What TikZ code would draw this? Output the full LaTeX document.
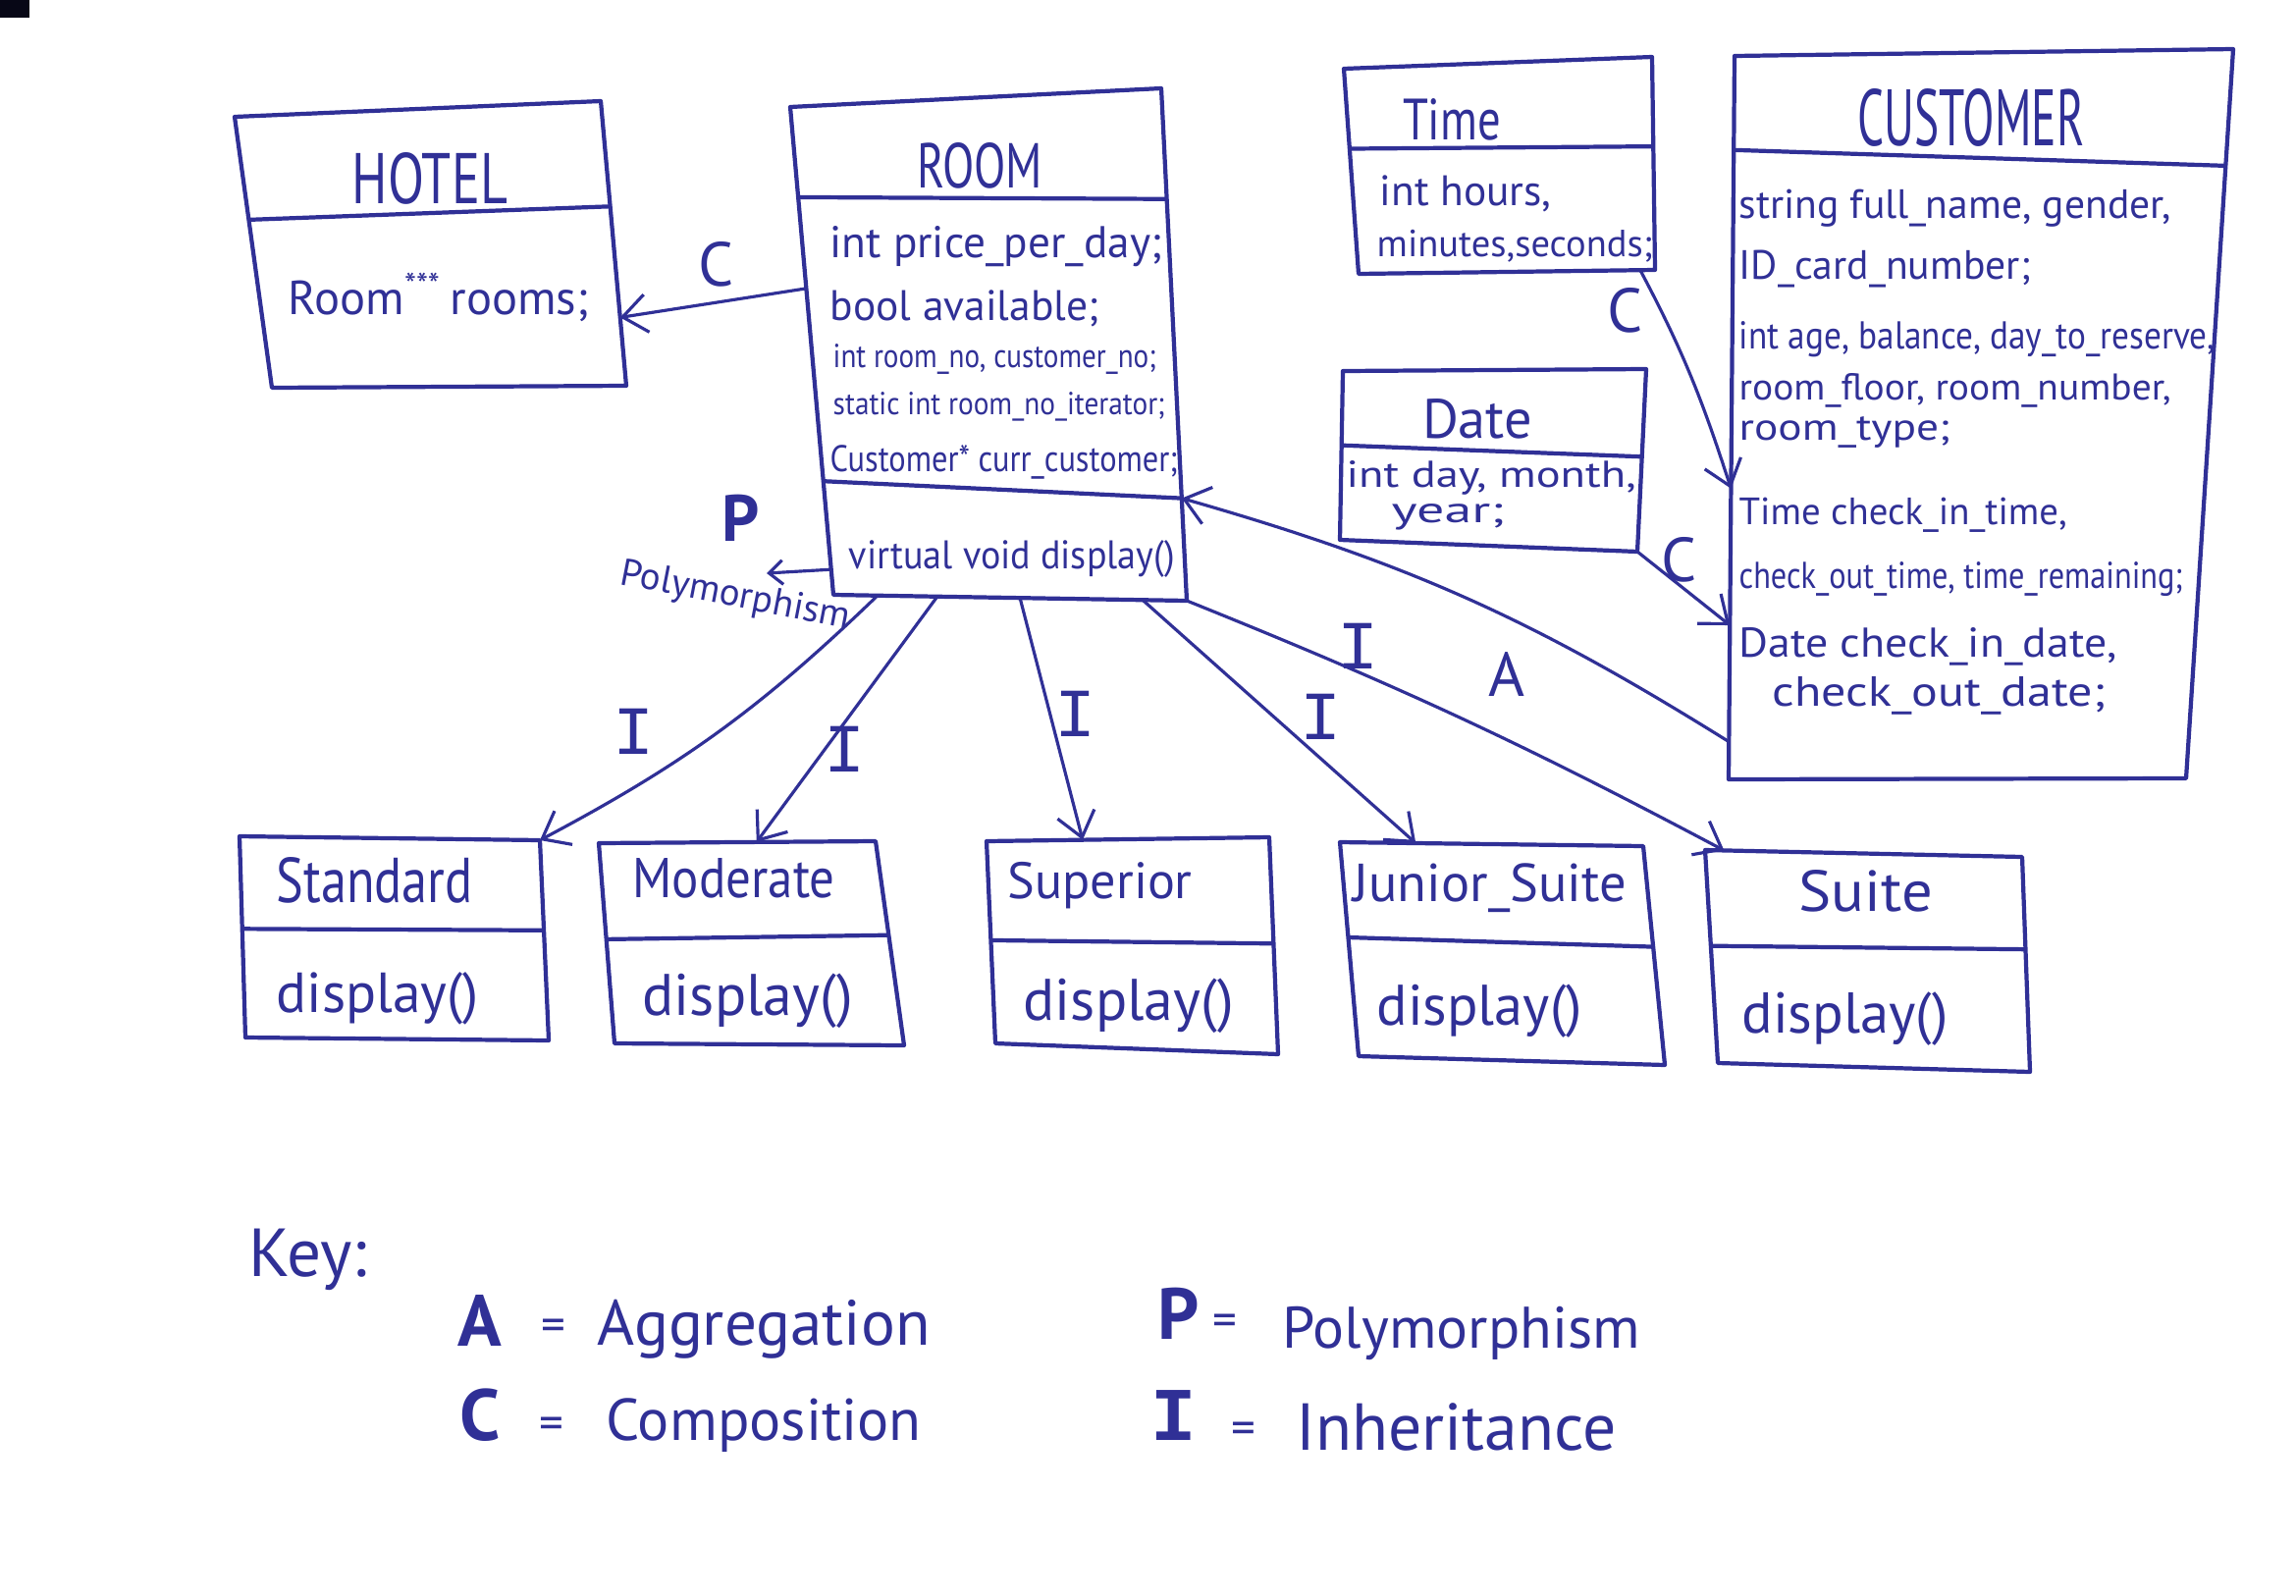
\documentclass[tikz,border=0pt]{standalone}
\usepackage{fontspec}
\setmainfont{PT Sans}
\newfontfamily\labelmono{Liberation Mono}
\usepackage{graphicx}
\usetikzlibrary{arrows.meta,calc}
\definecolor{ink}{RGB}{48,48,150}
\newcommand{\fitw}[2]{\resizebox{#1cm}{!}{#2}}
\newcommand{\fitwh}[3]{\resizebox{#1cm}{#2cm}{#3}}
\begin{document}
\begin{tikzpicture}[
  classbox/.style={draw=ink, line width=1.2pt, line join=round},
  divider/.style={draw=ink, line width=1.2pt},
  conn/.style={draw=ink, line width=0.9pt, -{Straight Barb[length=7pt,width=11pt]}},
  smallconn/.style={draw=ink, line width=0.9pt, -{Straight Barb[length=4pt,width=7pt]}},
  txt/.style={inner sep=0pt, text=ink, anchor=west},
  ttl/.style={inner sep=0pt, text=ink},
  tag/.style={inner sep=0pt, text=ink, font=\fontsize{18}{20}\selectfont},
  tagI/.style={inner sep=0pt, text=ink, font=\labelmono\fontsize{20}{22}\selectfont},
  keyletter/.style={inner sep=0pt, text=ink, font=\bfseries\fontsize{21}{22}\selectfont},
  keyeq/.style={inner sep=0pt, text=ink, font=\fontsize{14}{16}\selectfont},
]
\useasboundingbox (0,0) rectangle (23.39,-16.25);
\fill[black!85!ink] (0,0) rectangle (0.30,-0.18);

% ---------------- HOTEL
\coordinate (hTL) at (2.39,-1.19);
\coordinate (hTR) at (6.12,-1.03);
\coordinate (hBR) at (6.38,-3.93);
\coordinate (hBL) at (2.77,-3.95);
\draw[classbox] (hTL) -- (hTR) -- (hBR) -- (hBL) -- cycle;
\draw[divider] ($(hTL)!0.38!(hBL)$) -- ($(hTR)!0.37!(hBR)$);
\node[ttl] (hotelT) at (4.38,-1.82) {\fitwh{1.58}{0.52}{HOTEL}};
\node[txt] (hotelA) at (2.93,-3.03) {\fitw{3.06}{Room\textsuperscript{***}\,rooms;}};

% ---------------- ROOM
\coordinate (rTL) at (8.05,-1.09);
\coordinate (rTR) at (11.83,-0.90);
\coordinate (rBR) at (12.09,-6.12);
\coordinate (rBL) at (8.49,-6.06);
\draw[classbox] (rTL) -- (rTR) -- (rBR) -- (rBL) -- cycle;
\draw[divider] ($(rTL)!0.185!(rBL)$) -- ($(rTR)!0.216!(rBR)$);
\draw[divider] ($(rTL)!0.767!(rBL)$) -- ($(rTR)!0.80!(rBR)$);
\node[ttl] (roomT) at (9.98,-1.69) {\fitwh{1.28}{0.46}{ROOM}};
\node[txt] (roomA1) at (8.45,-2.51) {\fitw{3.38}{int price\_per\_day;}};
\node[txt] (roomA2) at (8.45,-3.14) {\fitw{2.74}{bool available;}};
\node[txt] (roomA3) at (8.48,-3.66) {\fitwh{3.29}{0.24}{int room\_no, customer\_no;}};
\node[txt] (roomA4) at (8.48,-4.14) {\fitwh{3.38}{0.23}{static int room\_no\_iterator;}};
\node[txt] (roomA5) at (8.45,-4.71) {\fitwh{3.54}{0.27}{Customer* curr\_customer;}};
\node[txt] (roomM1) at (8.64,-5.69) {\fitwh{3.32}{0.29}{virtual void display()}};

% ---------------- Time
\coordinate (tTL) at (13.69,-0.70);
\coordinate (tTR) at (16.83,-0.58);
\coordinate (tBR) at (16.86,-2.75);
\coordinate (tBL) at (13.84,-2.79);
\draw[classbox] (tTL) -- (tTR) -- (tBR) -- (tBL) -- cycle;
\draw[divider] ($(tTL)!0.39!(tBL)$) -- ($(tTR)!0.42!(tBR)$);
\node[ttl] (timeT) at (14.79,-1.22) {\fitwh{1.0}{0.42}{Time}};
\node[txt] (timeA1) at (14.05,-1.97) {\fitw{1.75}{int hours,}};
\node[txt] (timeA2) at (14.02,-2.51) {\fitw{2.81}{minutes,seconds;}};

% ---------------- Date
\coordinate (dTL) at (13.68,-3.78);
\coordinate (dTR) at (16.77,-3.76);
\coordinate (dBR) at (16.68,-5.62);
\coordinate (dBL) at (13.65,-5.50);
\draw[classbox] (dTL) -- (dTR) -- (dBR) -- (dBL) -- cycle;
\draw[divider] ($(dTL)!0.44!(dBL)$) -- ($(dTR)!0.48!(dBR)$);
\node[ttl] (dateT) at (15.05,-4.27) {\fitwh{1.12}{0.40}{Date}};
\node[txt] (dateA1) at (13.71,-4.87) {\fitwh{2.95}{0.27}{int day, month,}};
\node[txt] (dateA2) at (14.17,-5.27) {\fitwh{1.15}{0.19}{year;}};

% ---------------- CUSTOMER
\coordinate (cTL) at (17.67,-0.57);
\coordinate (cTR) at (22.75,-0.50);
\coordinate (cBR) at (22.27,-7.93);
\coordinate (cBL) at (17.61,-7.94);
\draw[classbox] (cTL) -- (cTR) -- (cBR) -- (cBL) -- cycle;
\draw[divider] ($(cTL)!0.13!(cBL)$) -- ($(cTR)!0.16!(cBR)$);
\node[ttl] (custT) at (20.08,-1.20) {\fitwh{2.31}{0.58}{CUSTOMER}};
\node[txt] (custA1) at (17.71,-2.12) {\fitw{4.40}{string full\_name, gender,}};
\node[txt] (custA2) at (17.71,-2.74) {\fitw{2.97}{ID\_card\_number;}};
\node[txt] (custA3) at (17.71,-3.46) {\fitwh{4.85}{0.28}{int age, balance, day\_to\_reserve,}};
\node[txt] (custA4) at (17.71,-3.98) {\fitwh{4.40}{0.27}{room\_floor, room\_number,}};
\node[txt] (custA5) at (17.71,-4.40) {\fitwh{2.15}{0.24}{room\_type;}};
\node[txt] (custA6) at (17.71,-5.25) {\fitw{3.34}{Time check\_in\_time,}};
\node[txt] (custA7) at (17.71,-5.90) {\fitwh{4.52}{0.27}{check\_out\_time, time\_remaining;}};
\node[txt] (custA8) at (17.71,-6.59) {\fitwh{3.85}{0.30}{Date check\_in\_date,}};
\node[txt] (custA9) at (18.05,-7.09) {\fitwh{3.39}{0.30}{check\_out\_date;}};

% ---------------- Standard
\coordinate (sTL) at (2.44,-8.52);
\coordinate (sTR) at (5.50,-8.56);
\coordinate (sBR) at (5.59,-10.60);
\coordinate (sBL) at (2.50,-10.57);
\draw[classbox] (sTL) -- (sTR) -- (sBR) -- (sBL) -- cycle;
\draw[divider] ($(sTL)!0.46!(sBL)$) -- ($(sTR)!0.45!(sBR)$);
\node[txt] (stdT) at (2.81,-8.97) {\fitwh{2.00}{0.46}{Standard}};
\node[txt] (stdM) at (2.81,-10.17) {\fitw{2.06}{display()}};

% ---------------- Moderate
\coordinate (mTL) at (6.10,-8.59);
\coordinate (mTR) at (8.92,-8.57);
\coordinate (mBR) at (9.21,-10.65);
\coordinate (mBL) at (6.26,-10.63);
\draw[classbox] (mTL) -- (mTR) -- (mBR) -- (mBL) -- cycle;
\draw[divider] ($(mTL)!0.48!(mBL)$) -- ($(mTR)!0.46!(mBR)$);
\node[txt] (modT) at (6.44,-8.95) {\fitwh{2.06}{0.40}{Moderate}};
\node[txt] (modM) at (6.54,-10.20) {\fitw{2.14}{display()}};

% ---------------- Superior
\coordinate (uTL) at (10.05,-8.57);
\coordinate (uTR) at (12.93,-8.53);
\coordinate (uBR) at (13.02,-10.74);
\coordinate (uBL) at (10.14,-10.63);
\draw[classbox] (uTL) -- (uTR) -- (uBR) -- (uBL) -- cycle;
\draw[divider] ($(uTL)!0.49!(uBL)$) -- ($(uTR)!0.49!(uBR)$);
\node[txt] (supT) at (10.26,-9.02) {\fitw{1.88}{Superior}};
\node[txt] (supM) at (10.42,-10.25) {\fitw{2.14}{display()}};

% ---------------- Junior_Suite
\coordinate (jTL) at (13.65,-8.58);
\coordinate (jTR) at (16.74,-8.62);
\coordinate (jBR) at (16.96,-10.85);
\coordinate (jBL) at (13.84,-10.76);
\draw[classbox] (jTL) -- (jTR) -- (jBR) -- (jBL) -- cycle;
\draw[divider] ($(jTL)!0.445!(jBL)$) -- ($(jTR)!0.46!(jBR)$);
\node[txt] (junT) at (13.78,-9.05) {\fitw{2.78}{Junior\_Suite}};
\node[txt] (junM) at (14.02,-10.30) {\fitw{2.09}{display()}};

% ---------------- Suite
\coordinate (qTL) at (17.37,-8.66);
\coordinate (qTR) at (20.60,-8.73);
\coordinate (qBR) at (20.68,-10.92);
\coordinate (qBL) at (17.50,-10.83);
\draw[classbox] (qTL) -- (qTR) -- (qBR) -- (qBL) -- cycle;
\draw[divider] ($(qTL)!0.45!(qBL)$) -- ($(qTR)!0.43!(qBR)$);
\node[txt] (suiT) at (18.32,-9.08) {\fitwh{1.36}{0.42}{Suite}};
\node[txt] (suiM) at (17.74,-10.38) {\fitw{2.10}{display()}};

% ---------------- Connectors
% ROOM -> HOTEL (composition)
\coordinate (c1s) at ($(rTL)!0.372!(rBL)$);
\coordinate (c1e) at ($(hTR)!0.76!(hBR)$);
\draw[conn] (c1s) -- (c1e);
\node[tag] (lblC1) at (7.30,-2.69) {C};

% Polymorphism
\coordinate (ps) at ($(rTL)!0.948!(rBL)$);
\coordinate (pe) at (7.81,-5.84);
\draw[smallconn] (ps) -- (pe);
\node[tag, font=\bfseries\fontsize{19}{20}\selectfont] (lblP) at (7.55,-5.28) {P};
\node[ttl, rotate=-11] (poly) at (7.49,-6.08) {\fitw{2.37}{Polymorphism}};

% Time -> CUSTOMER
\coordinate (tcs) at ($(tBL)!0.95!(tBR)$);
\coordinate (tce) at ($(cTL)!0.598!(cBL)$);
\draw[conn] (tcs) to[out=-62,in=108] (tce);
\node[tag] (lblC2) at (16.56,-3.16) {C};

% Date -> CUSTOMER
\coordinate (dce) at ($(cTL)!0.787!(cBL)$);
\draw[conn] (dBR) -- (dce);
\node[tag] (lblC3) at (17.11,-5.70) {C};

% CUSTOMER -> ROOM (aggregation)
\coordinate (as) at ($(cTL)!0.948!(cBL)$);
\coordinate (ae) at ($(rTR)!0.80!(rBR)$);
\draw[conn] (as) to[bend right=8] (ae);
\node[tag] (lblA) at (15.35,-6.87) {A};

% Inheritance
\coordinate (i1s) at ($(rBL)!0.125!(rBR)$);
\coordinate (i2s) at ($(rBL)!0.294!(rBR)$);
\coordinate (i3s) at ($(rBL)!0.528!(rBR)$);
\coordinate (i4s) at ($(rBL)!0.875!(rBR)$);
\coordinate (i2e) at ($(mTL)!0.57!(mTR)$);
\coordinate (i3e) at ($(uTL)!0.34!(uTR)$);
\coordinate (i4e) at ($(jTL)!0.25!(jTR)$);
\coordinate (i5e) at ($(qTL)!0.06!(qTR)$);
\draw[conn] (i1s) to[bend left=8] (sTR);
\draw[conn] (i2s) -- (i2e);
\draw[conn] (i3s) -- (i3e);
\draw[conn] (i4s) -- (i4e);
\draw[conn] (rBR) to[bend left=3] (i5e);
\node[tagI] (lblI1) at (6.46,-7.45) {I};
\node[tagI] (lblI2) at (8.61,-7.63) {I};
\node[tagI] (lblI3) at (10.96,-7.27) {I};
\node[tagI] (lblI4) at (13.46,-7.30) {I};
\node[tagI] (lblI5) at (13.84,-6.58) {I};

% ---------------- Key
\node[txt] (keyT) at (2.53,-12.83) {\fitw{1.20}{Key:}};
\node[keyletter] (kA) at (4.89,-13.45) {A};
\node[keyeq] (kAeq) at (5.64,-13.55) {=};
\node[inner sep=0pt, text=ink, anchor=base west] (kAw) at (6.08,-13.70) {\fitw{3.39}{Aggregation}};
\node[keyletter] (kC) at (4.89,-14.42) {C};
\node[keyeq] (kCeq) at (5.62,-14.55) {=};
\node[inner sep=0pt, text=ink, anchor=base west] (kCw) at (6.17,-14.67) {\fitw{3.21}{Composition}};
\node[keyletter] (kP) at (12.01,-13.38) {P};
\node[keyeq] (kPeq) at (12.48,-13.50) {=};
\node[inner sep=0pt, text=ink, anchor=base west] (kPw) at (13.06,-13.73) {\fitw{3.64}{Polymorphism}};
\node[keyletter, font=\labelmono\bfseries\fontsize{22}{22}\selectfont] (kI) at (11.96,-14.42) {I};
\node[keyeq] (kIeq) at (12.67,-14.60) {=};
\node[inner sep=0pt, text=ink, anchor=base west] (kIw) at (13.20,-14.77) {\fitw{3.26}{Inheritance}};
\end{tikzpicture}
\end{document}
